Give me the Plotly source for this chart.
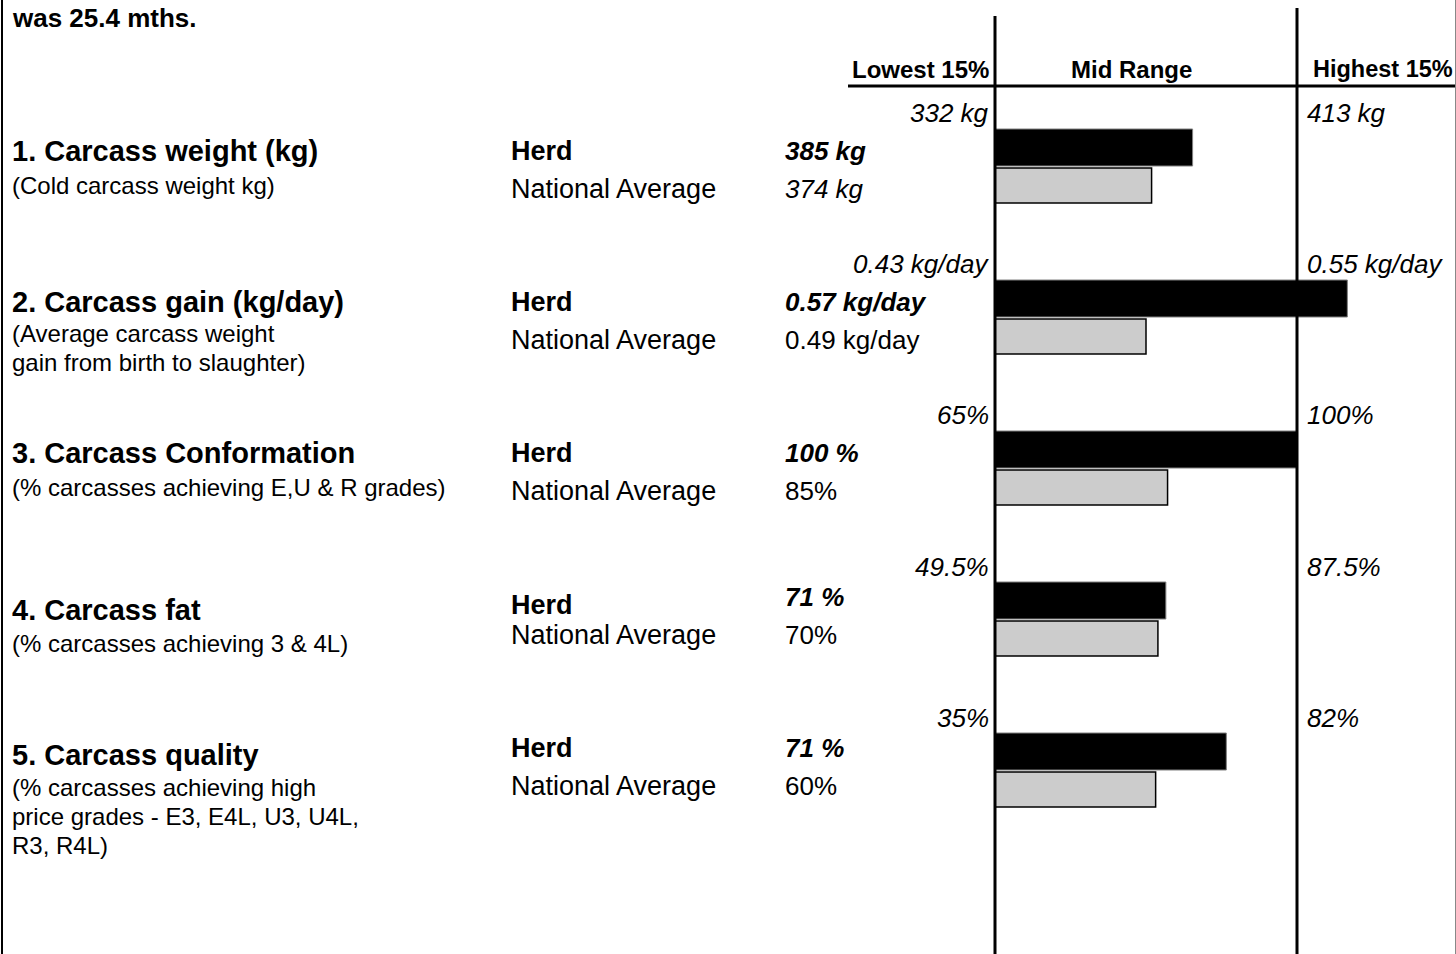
import plotly.graph_objects as go

# ---------------- data ----------------
metrics = ["1. Carcass weight (kg)", "2. Carcass gain (kg/day)", "3. Carcass Conformation",
           "4. Carcass fat", "5. Carcass quality"]
descriptions = [
    ["(Cold carcass weight kg)"],
    ["(Average carcass weight", "gain from birth to slaughter)"],
    ["(% carcasses achieving E,U & R grades)"],
    ["(% carcasses achieving 3 & 4L)"],
    ["(% carcasses achieving high", "price grades - E3, E4L, U3, U4L,", "R3, R4L)"],
]
lowest_15 = [332, 0.43, 65, 49.5, 35]
highest_15 = [413, 0.55, 100, 87.5, 82]
herd = [385, 0.57, 100, 71, 71]
national = [374, 0.49, 85, 70, 60]
low_labels = ["332 kg", "0.43 kg/day", "65%", "49.5%", "35%"]
high_labels = ["413 kg", "0.55 kg/day", "100%", "87.5%", "82%"]
herd_labels = ["385 kg", "0.57 kg/day", "100 %", "71 %", "71 %"]
national_labels = ["374 kg", "0.49 kg/day", "85%", "70%", "60%"]
national_italic = [True, False, False, False, False]
band_labels = ["Lowest 15%", "Mid Range", "Highest 15%"]
intro_text = "was 25.4 mths."

# ---------------- layout constants (pixels) ----------------
W, H = 1456, 954
X0_PX, X1_PX = 995, 1297          # pixel positions of lowest / highest 15% thresholds
SPAN = X1_PX - X0_PX
row_center = [167 + 151 * i for i in range(5)]
heading_y = [151, 302, 453, 610, 755]
sub_y = [185, 333, 487, 643, 787]
herd_y = [151, 302, 453, 605, 748]
herd_val_y = [151, 302, 453, 597, 748]
nat_y = [189, 340, 491, 635, 786]
thr_y = [113, 264, 415, 567, 718]
FONT = "Liberation Sans, Arial, sans-serif"

# normalised score: 0 = lowest 15% threshold, 1 = highest 15% threshold
herd_norm = [(v - lo) / (hi - lo) for v, lo, hi in zip(herd, lowest_15, highest_15)]
nat_norm = [(v - lo) / (hi - lo) for v, lo, hi in zip(national, lowest_15, highest_15)]

fig = go.Figure()
fig.add_bar(y=row_center, x=herd_norm, base=0, orientation="h", width=37, offset=-38,
            marker=dict(color="#000000", line=dict(color="#808080", width=1)),
            hoverinfo="skip", name="Herd")
fig.add_bar(y=row_center, x=nat_norm, base=0, orientation="h", width=35, offset=1,
            marker=dict(color="#cccccc", line=dict(color="#000000", width=1.5)),
            hoverinfo="skip", name="National Average")


def px(x):
    return x / W


ann = []


def text(x, y, s, size, anchor="left", xref="paper", xshift=0):
    ann.append(dict(x=x, y=y, xref=xref, yref="y", text=s, showarrow=False,
                    xanchor=anchor, yanchor="middle", xshift=xshift,
                    font=dict(family=FONT, size=size, color="#000000")))


text(px(10), 18, "<b>" + intro_text + "</b>", 26)
text(px(991), 69, "<b>" + band_labels[0] + "</b>", 24, anchor="right")
text(px(1131), 69, "<b>" + band_labels[1] + "</b>", 24, anchor="center")
text(px(1311), 69, "<b>" + band_labels[2] + "</b>", 23.5, anchor="left")

for i in range(5):
    text(px(10), heading_y[i], "<b>" + metrics[i] + "</b>", 29)
    for j, line in enumerate(descriptions[i]):
        text(px(10), sub_y[i] + 29 * j, line, 24)
    text(px(509), herd_y[i], "<b>Herd</b>", 27)
    text(px(509), nat_y[i], "National Average", 27)
    text(px(783), herd_val_y[i], "<b><i>" + herd_labels[i] + "</i></b>", 26)
    nl = national_labels[i]
    text(px(783), nat_y[i], "<i>" + nl + "</i>" if national_italic[i] else nl, 26)
    text(0, thr_y[i], "<i>" + low_labels[i] + "</i>", 26, anchor="right", xref="x", xshift=-4)
    text(1, thr_y[i], "<i>" + high_labels[i] + "</i>", 26, anchor="left", xref="x", xshift=8)

shapes = [
    dict(type="line", xref="x", yref="y", x0=0, x1=0, y0=16, y1=H, line=dict(color="#000", width=3)),
    dict(type="line", xref="x", yref="y", x0=1, x1=1, y0=8, y1=H, line=dict(color="#000", width=3)),
    dict(type="line", xref="paper", yref="y", x0=px(848), x1=1, y0=86, y1=86, line=dict(color="#000", width=3)),
    dict(type="line", xref="paper", yref="y", x0=px(2), x1=px(2), y0=0, y1=H, line=dict(color="#000", width=2)),
    dict(type="line", xref="paper", yref="y", x0=px(1455.5), x1=px(1455.5), y0=0, y1=H, line=dict(color="#888", width=1)),
]

fig.update_layout(
    width=W, height=H,
    margin=dict(l=0, r=0, t=0, b=0, pad=0),
    paper_bgcolor="white", plot_bgcolor="white",
    showlegend=False, barmode="overlay",
    xaxis=dict(range=[-X0_PX / SPAN, (W - X0_PX) / SPAN], visible=False, fixedrange=True),
    yaxis=dict(range=[H, 0], visible=False, fixedrange=True),
    annotations=ann, shapes=shapes,
    font=dict(family=FONT),
)

fig.write_html("out.html", config={"displayModeBar": False},
               post_script="document.body.style.margin='0';document.body.style.overflow='hidden';")
